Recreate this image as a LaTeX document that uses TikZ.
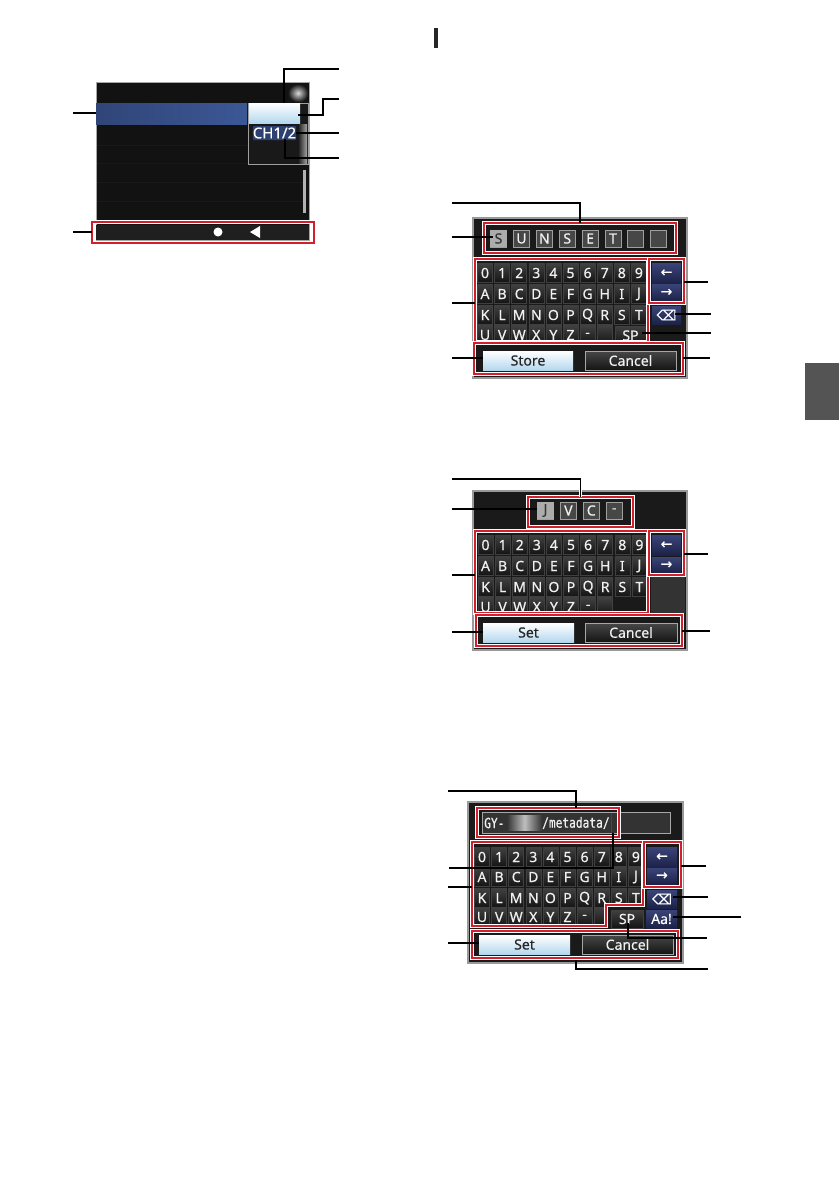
\documentclass[tikz,border=0pt]{standalone}
\usepackage{fontspec}
\setmainfont{Noto Sans}
\newfontfamily\labf[FakeBold=0.5]{Noto Sans}
\newfontfamily\dejaf[FakeBold=0.3]{DejaVu Sans}
\newfontfamily\monof[FakeStretch=0.8,FakeBold=0.6]{DejaVu Sans Mono}
\definecolor{redbx}{HTML}{D0202E}
\definecolor{panel}{HTML}{1A1A1A}
\definecolor{keytop}{HTML}{404040}
\definecolor{keybot}{HTML}{141414}
\definecolor{navtop}{HTML}{3A4478}
\definecolor{navbot}{HTML}{1C2248}
\definecolor{rowblue}{HTML}{3C5796}
\definecolor{lightb}{HTML}{B4D8EE}
\definecolor{keytxt}{HTML}{F0F0F0}
\tikzset{
  x=1pt,y=-1pt,
  bxbase/.style={inner sep=0pt,outer sep=0pt,font=\fontsize{14}{14}\labf},
  redframe/.style={draw=white,double=redbx,line width=0.9pt,double distance=2.1pt},
  lead/.style={draw=white,double=black,line width=0.8pt,double distance=1.1pt},
  outerpanel/.style={fill=panel,draw=gray!80,line width=1.2pt},
  keycap/.style={top color=keytop,bottom color=keybot,draw=black!75,line width=0.5pt,text=keytxt},
  navkey/.style={top color=navtop,bottom color=navbot,text=white},
  okbtn/.style={top color=white,bottom color=lightb,text=black!85},
  cnbtn/.style={top color=black!72,bottom color=black!92,draw=gray!70,line width=0.5pt,text=keytxt},
  charcell/.style={fill=black!72,draw=gray!75,line width=1pt,text=keytxt},
  charsel/.style={fill=gray!65,text=black!80}
}
\newcommand{\pxbox}[7][]{%
  \pgfmathsetmacro\pxw{#5-#3}\pgfmathsetmacro\pxh{#6-#4}%
  \node[bxbase,minimum width=\pxw pt,minimum height=\pxh pt,#1] (#2) at ({(#3+#5)/2},{(#4+#6)/2}) {#7};}
\newcommand{\keyrows}[6]{%
  \foreach \c [count=\i from 0] in {0,1,2,3,4,5,6,7,8,9}
    \node[keycap,inner sep=0pt,minimum width=15pt,minimum height=19pt,font=\fontsize{14}{14}\labf] (#1a\i) at ({#2+\i*17.1},#3) {\c};
  \foreach \c [count=\i from 0] in {A,B,C,D,E,F,G,H,I,J}
    \node[keycap,inner sep=0pt,minimum width=15pt,minimum height=19pt,font=\fontsize{14}{14}\labf] (#1b\i) at ({#2+\i*17.1},#4) {\c};
  \foreach \c [count=\i from 0] in {K,L,M,N,O,P,Q,R,S,T}
    \node[keycap,inner sep=0pt,minimum width=15pt,minimum height=19pt,font=\fontsize{14}{14}\labf] (#1c\i) at ({#2+\i*17.1},#5) {\c};
  \foreach \c [count=\i from 0] in {U,V,W,X,Y,Z,-,{}}
    \node[keycap,inner sep=0pt,minimum width=15pt,minimum height=19pt,font=\fontsize{14}{14}\labf] (#1d\i) at ({#2+\i*17.1},#6) {\c};
}
\begin{document}
\begin{tikzpicture}
\useasboundingbox (0,0) rectangle (839,1191);
\fill[white] (0,0) rectangle (839,1191);

% side tab and section mark
\pxbox[fill=black!67]{tab}{805}{363}{839}{420}{}
\pxbox[fill=black!85]{mark}{434}{28}{438}{48}{}

% ---------- Screen 1 ----------
\pxbox[fill=black!93,draw=gray!70,line width=1pt]{scr}{96}{82}{309}{240}{}
\foreach \y in {145,163,182,201}
  \draw[black!90,line width=0.5pt] (97,\y) -- (305,\y);
\pxbox[inner color=gray!30,outer color=black!92]{blob}{288}{84}{308}{102}{}
\pxbox[left color=rowblue!80!black,right color=rowblue,draw=none]{srow}{96}{103}{247}{124}{}
\pxbox[fill=black!90,draw=gray!75,line width=1pt]{pop}{248}{103}{308}{164}{}
\pxbox[left color=black!90,right color=gray!70]{popedge}{298}{124}{307}{163}{}
\pxbox[okbtn]{popsel}{249}{103}{300}{123}{}
\pxbox[fill=rowblue!75!black,text=white,rounded corners=1pt,font=\fontsize{15}{15}\labf]{ch}{253}{126}{296}{140}{CH1/2}
\pxbox[fill=gray!60]{scroll}{303}{170}{306}{213}{}
\pxbox[fill=black!88]{bar}{96}{225}{309}{240}{}
\node[circle,fill=white,minimum size=9pt,inner sep=0pt] (dot) at (218,232) {};
\coordinate (t1) at (260,226);\coordinate (t2) at (260,238);\coordinate (t3) at (250,232);
\fill[white] (t1) -- (t2) -- (t3) -- cycle;
\pxbox[redframe]{sbar}{92}{222}{314}{243}{}

\coordinate (sa) at (73,113);
\coordinate (sb) at (73,232);
\coordinate (sc) at (339,69);
\coordinate (sc1) at (284,103);
\coordinate (sd) at (339,99);
\coordinate (sd1) at (323,115);
\coordinate (sd2) at (298,115);
\coordinate (se) at (339,133);
\coordinate (se1) at (296,133);
\coordinate (sf) at (339,158);
\coordinate (sf1) at (285,139);
\draw[lead] (sa) -- (sa -| srow.west);
\draw[lead] (sb) -- (sb -| sbar.west);
\draw[lead] (sc) -| (sc1);
\draw[lead] (sd) -| (sd1) -- (sd2);
\draw[lead] (se) -- (se1);
\draw[lead] (sf) -| (sf1);

% ---------- Keyboard 1 ----------
\pxbox[outerpanel]{ka}{473}{218}{687}{378}{}
\begin{scope}
  \clip (475,259) rectangle (648,342);
  \keyrows{ka}{485}{273}{294}{315}{335}
  \pxbox[keycap]{kasp}{615}{326}{646}{345}{SP}
\end{scope}
\foreach \c [count=\i from 0] in {S,U,N,S,E,T,{},{}}
  \node[charcell,inner sep=0pt,minimum width=16pt,minimum height=17pt,font=\fontsize{14}{14}\labf] (kaC\i) at ({498.5+\i*22.9},238.5) {\c};
\node[charsel,inner sep=0pt,minimum width=17pt,minimum height=17pt,font=\fontsize{14}{14}\labf] (kaS) at (498.5,238.5) {S};
\pxbox[navkey,font=\fontsize{14}{14}\dejaf]{kal}{652}{263}{681}{283}{←}
\pxbox[navkey,font=\fontsize{14}{14}\dejaf]{kar}{652}{284}{681}{301}{→}
\pxbox[navkey,font=\fontsize{14}{14}\dejaf]{kabs}{652}{306}{681}{324}{⌫}
\pxbox[okbtn]{kaok}{483}{351}{573}{370}{Store}
\pxbox[cnbtn]{kacn}{585}{351}{676}{370}{Cancel}
\pxbox[redframe]{kaup}{484}{223}{676}{253}{}
\pxbox[redframe]{kakeys}{475}{259}{648}{342}{}
\pxbox[redframe]{kaarr}{649}{259}{684}{303}{}
\pxbox[redframe]{kabot}{474}{343}{683}{374}{}

\coordinate (kaa) at (452,203);
\coordinate (kab) at (452,237);
\coordinate (kab1) at (493,237);
\coordinate (kac) at (452,303);
\coordinate (kad) at (452,358);
\coordinate (kae) at (708,282);
\coordinate (kaf) at (711,314);
\coordinate (kaf1) at (675,314);
\coordinate (kag) at (711,333);
\coordinate (kag1) at (642,333);
\coordinate (kah) at (710,358);
\draw[lead] (kaa) -| (kaup.north);
\draw[lead] (kab) -- (kab1);
\draw[lead] (kac) -- (kac -| kakeys.west);
\draw[lead] (kad) -- (kad -| kaok.west);
\draw[lead] (kae) -- (kae -| kaarr.east);
\draw[lead] (kaf) -- (kaf1);
\draw[lead] (kag) -- (kag1);
\draw[lead] (kah) -- (kah -| kabot.east);

% ---------- Keyboard 2 ----------
\pxbox[outerpanel]{kb}{473}{491}{687}{650}{}
\begin{scope}
  \clip (475,531) rectangle (648,613);
  \keyrows{kb}{485.5}{545}{566}{587}{607}
\end{scope}
\foreach \c [count=\i from 0] in {J,V,C,-}
  \node[charcell,inner sep=0pt,minimum width=16pt,minimum height=17pt,font=\fontsize{14}{14}\labf] (kbC\i) at ({545.5+\i*22.9},510.5) {\c};
\node[charsel,inner sep=0pt,minimum width=17pt,minimum height=17pt,font=\fontsize{14}{14}\labf] (kbS) at (545.5,510.5) {J};
\pxbox[navkey,font=\fontsize{14}{14}\dejaf]{kbl}{652}{535}{681}{555}{←}
\pxbox[navkey,font=\fontsize{14}{14}\dejaf]{kbr}{652}{557}{681}{573}{→}
\pxbox[fill=black!80]{kbblank}{651}{577}{685}{613}{}
\pxbox[okbtn]{kbok}{483}{623}{574}{642}{Set}
\pxbox[cnbtn]{kbcn}{585}{623}{677}{642}{Cancel}
\pxbox[redframe]{kbup}{528}{497}{633}{527}{}
\pxbox[redframe]{kbkeys}{475}{531}{648}{613}{}
\pxbox[redframe]{kbarr}{649}{531}{684}{575}{}
\pxbox[redframe]{kbbot}{476}{615}{682}{646}{}

\coordinate (kba) at (452,479);
\coordinate (kbb) at (452,509);
\coordinate (kbc) at (452,575);
\coordinate (kbd) at (452,632);
\coordinate (kbe) at (708,554);
\coordinate (kbf) at (710,631);
\draw[lead] (kba) -| (kbup.north);
\draw[lead] (kbb) -- (kbb -| kbS.west);
\draw[lead] (kbc) -- (kbc -| kbkeys.west);
\draw[lead] (kbd) -- (kbd -| kbok.west);
\draw[lead] (kbe) -- (kbe -| kbarr.east);
\draw[lead] (kbf) -- (kbf -| kbbot.east);

% ---------- Keyboard 3 ----------
\pxbox[outerpanel]{kc}{468}{802}{683}{963}{}
\begin{scope}
  \clip (472,842) -- (643,842) -- (643,905) -- (606,905) -- (606,926) -- (472,926) -- cycle;
  \keyrows{kc}{482}{857}{877}{898}{917}
\end{scope}
\pxbox[fill=black!80,draw=gray!70,line width=1pt]{kcfield}{482}{812}{670}{833}{}
\node[anchor=west,inner sep=0pt,text=keytxt,font=\fontsize{14}{14}\monof] (kctx1) at (484,823) {GY-};
\pxbox[left color=black!80,right color=black!80,middle color=gray!50]{kcblur}{507}{815}{542}{830}{}
\node[anchor=west,inner sep=0pt,text=keytxt,font=\fontsize{14}{14}\monof] (kctx2) at (542,823) {/metadata/};
\pxbox[fill=blue!55!gray]{kccur}{610.5}{814}{611.5}{832}{}
\pxbox[navkey,font=\fontsize{14}{14}\dejaf]{kcl}{647}{847}{677}{867}{←}
\pxbox[navkey,font=\fontsize{14}{14}\dejaf]{kcr}{647}{868}{677}{884}{→}
\pxbox[navkey,font=\fontsize{14}{14}\dejaf]{kcbs}{647}{890}{677}{908}{⌫}
\pxbox[navkey]{kcaa}{646}{910}{677}{928}{Aa!}
\pxbox[keycap]{kcsp}{611}{910}{643}{928}{SP}
\pxbox[okbtn]{kcok}{479}{935}{570}{954}{Set}
\pxbox[cnbtn]{kccn}{582}{935}{673}{954}{Cancel}
\pxbox[redframe]{kcup}{477}{808}{619}{837}{}
\coordinate (kk1) at (472,842);\coordinate (kk2) at (643,842);\coordinate (kk3) at (643,905);
\coordinate (kk4) at (606,905);\coordinate (kk5) at (606,926);\coordinate (kk6) at (472,926);
\draw[redframe] (kk1) -- (kk2) -- (kk3) -- (kk4) -- (kk5) -- (kk6) -- cycle;
\pxbox[redframe]{kcarr}{644}{842}{681}{887}{}
\pxbox[redframe]{kcbot}{472}{931}{678}{958}{}

\coordinate (kca) at (448,791);
\coordinate (kca1) at (576,808);
\coordinate (kcb) at (449,868);
\coordinate (kcb1) at (613,833);
\coordinate (kcc) at (448,887);
\coordinate (kcd) at (448,943);
\coordinate (kce) at (706,866);
\coordinate (kcf) at (708,897);
\coordinate (kcf1) at (673,897);
\coordinate (kcg) at (741,917);
\coordinate (kcg1) at (673,917);
\coordinate (kch) at (707,938);
\coordinate (kch1) at (628,923);
\coordinate (kci) at (708,969);
\coordinate (kci1) at (576,960);
\draw[lead] (kca) -| (kca1);
\draw[lead] (kcb) -| (kcb1);
\draw[lead] (kcc) -- (kcc -| kk1);
\draw[lead] (kcd) -- (kcd -| kcok.west);
\draw[lead] (kce) -- (kce -| kcarr.east);
\draw[lead] (kcf) -- (kcf1);
\draw[lead] (kcg) -- (kcg1);
\draw[lead] (kch) -| (kch1);
\draw[lead] (kci) -| (kci1);
\end{tikzpicture}
\end{document}
